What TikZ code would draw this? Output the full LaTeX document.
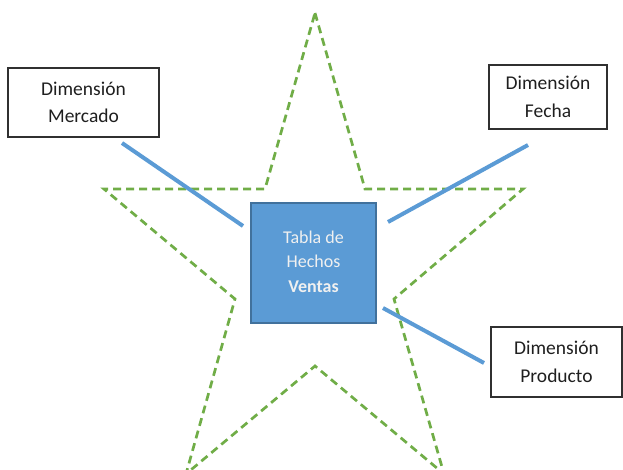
\documentclass[tikz,border=0pt]{standalone}
\usepackage{fontspec}
\setmainfont{Carlito}
\definecolor{bluefill}{HTML}{5B9BD5}
\definecolor{blueedge}{HTML}{41719C}
\definecolor{stargreen}{HTML}{70AD47}
\definecolor{boxedge}{HTML}{303030}
\begin{document}
\begin{tikzpicture}[x=1pt,y=-1pt,
  dimbox/.style={draw=boxedge,line width=1.1pt,fill=white,align=center,inner sep=0pt,
    font=\fontsize{19.5}{27.5}\selectfont,text=black!88},
  factbox/.style={draw=blueedge,line width=1.3pt,fill=bluefill,align=center,inner sep=0pt,
    font=\fontsize{18}{24.5}\selectfont,text=white!94!black},
  link/.style={draw=bluefill,line width=4pt},
  starline/.style={draw=stargreen,line width=2.7pt,dash pattern=on 8pt off 5pt}]
\useasboundingbox (0,0) rectangle (623,470);
\begin{scope}
\clip (0,0) rectangle (623,470);
\draw[starline] (315,13) -- (365,189) -- (523,189) -- (394,299) -- (444,474)
  -- (315,366) -- (186,474) -- (235,299) -- (104,189) -- (265,189) -- cycle;
\end{scope}
\node[factbox,minimum width=125pt,minimum height=120pt] (fact) at (313.5,263)
  {\raisebox{12pt}{\begin{tabular}{@{}c@{}}Tabla de\\Hechos\\\textbf{Ventas}\end{tabular}}};
\node[dimbox,minimum width=151pt,minimum height=69pt] (mercado) at (83.5,102.5)
  {Dimensión\\Mercado};
\node[dimbox,minimum width=118pt,minimum height=64pt] (fecha) at (548,97)
  {Dimensión\\Fecha};
\node[dimbox,minimum width=131pt,minimum height=70pt] (producto) at (556.5,362)
  {Dimensión\\Producto};
\coordinate (m1) at (122,143);
\coordinate (m2) at (243,226);
\coordinate (f1) at (528,145);
\coordinate (f2) at (388,222);
\coordinate (p1) at (383,308);
\coordinate (p2) at (484,363);
\draw[link] (m1) -- (m2);
\draw[link] (f1) -- (f2);
\draw[link] (p1) -- (p2);
\end{tikzpicture}
\end{document}
